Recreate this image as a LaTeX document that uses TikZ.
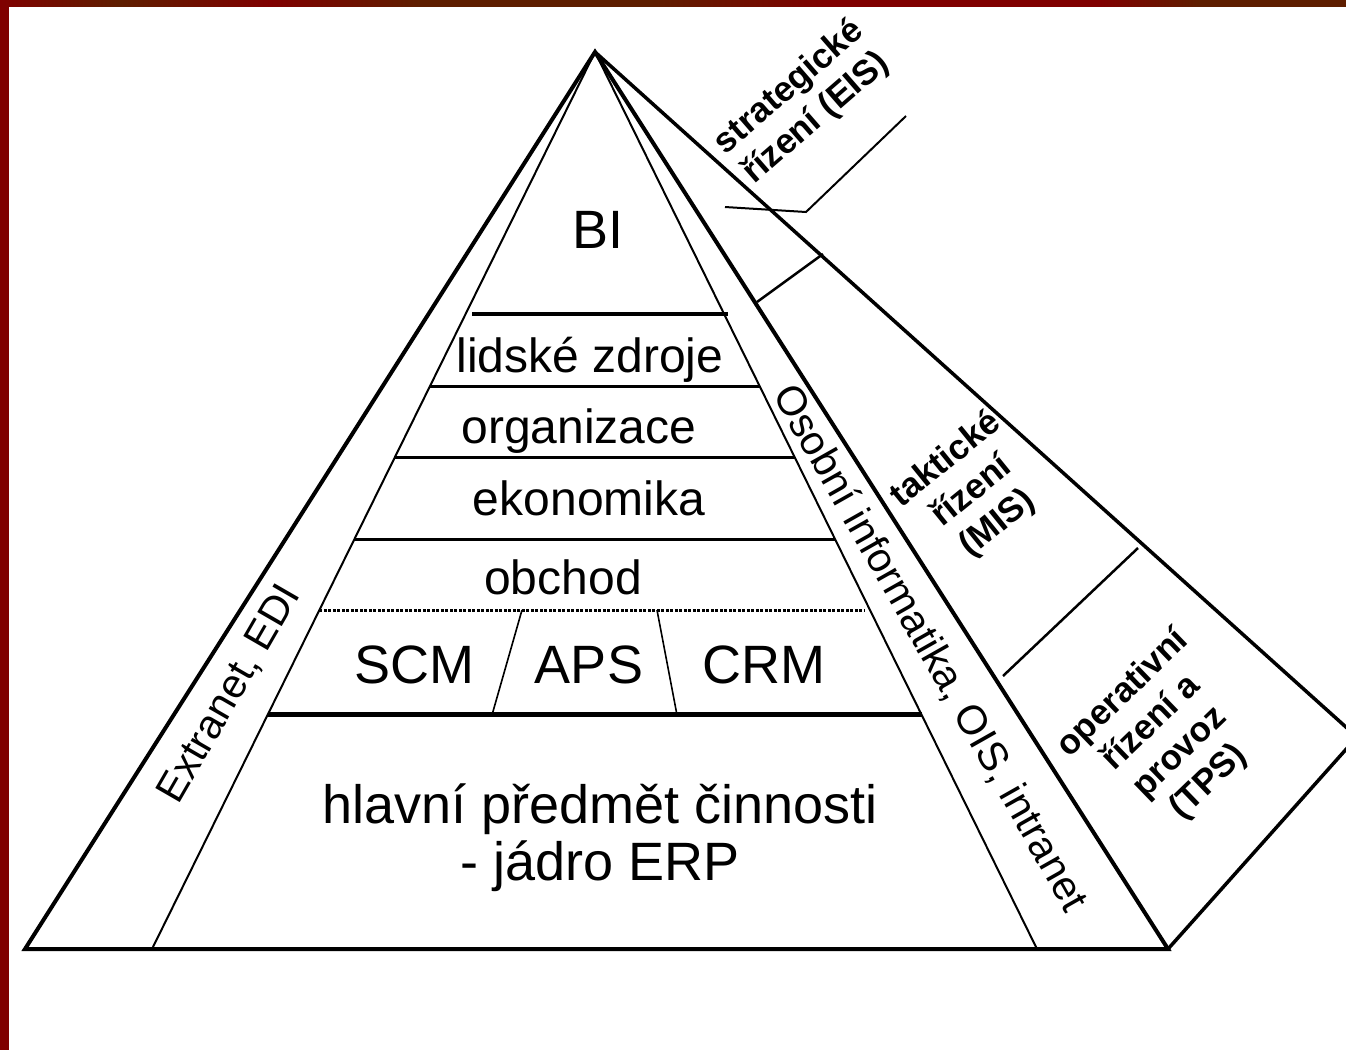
\documentclass[tikz,border=0pt]{standalone}
\usepackage{fontspec}
\setmainfont{Liberation Sans}
\definecolor{stripred}{HTML}{800000}
\definecolor{stripbrown}{HTML}{5E1E00}
\tikzset{
  edge/.style={line width=4pt, line join=miter},
  inner/.style={line width=2pt},
  rowline/.style={line width=3pt},
  heavyrow/.style={line width=5pt},
  divider/.style={line width=1.6pt},
  panelline/.style={line width=3.5pt, line join=miter},
  levelsep/.style={line width=2.5pt},
  layertext/.style={font=\fontsize{48}{50}\selectfont, anchor=base, inner sep=0pt},
  bigtext/.style={font=\fontsize{54}{57}\selectfont, anchor=base, inner sep=0pt},
  sidetext/.style={font=\fontsize{41}{46}\selectfont, inner sep=0pt},
  mgmttext/.style={font=\bfseries\fontsize{35}{41}\selectfont, align=center, inner sep=0pt},
}
\begin{document}
\begin{tikzpicture}[x=1pt, y=-1pt]
\useasboundingbox (0,0) rectangle (1346,1050);
\fill[white] (0,0) rectangle (1346,1050);

% slide frame: left bar and shaded top bar
\fill[stripred] (0,0) rectangle (9,1050);
\foreach \xa/\xb/\ca/\cb in {0/120/stripred/stripbrown, 120/270/stripbrown/stripred,
  270/420/stripred/stripbrown, 420/650/stripbrown/stripbrown, 650/830/stripbrown/stripred,
  830/1100/stripred/stripred, 1100/1200/stripred/stripbrown, 1200/1346/stripbrown/stripbrown}
  \shade[left color=\ca, right color=\cb] (\xa-0.5,0) rectangle (\xb+0.5,6);

% main points of the pyramid
\coordinate (apex) at (595,52);
\coordinate (BL) at (25,949);
\coordinate (BR) at (1168,949);
\coordinate (IL) at (152,949);
\coordinate (IR) at (1037,949);
\coordinate (OC) at (1357,737);

% layer boundaries on the inner slopes
\path (apex) -- (IL)
  coordinate[pos=0.3724] (L1) coordinate[pos=0.4526] (L2)
  coordinate[pos=0.5440] (L3) coordinate[pos=0.6221] (L4)
  coordinate[pos=0.7391] (L5);
\path (apex) -- (IR)
  coordinate[pos=0.3724] (R1) coordinate[pos=0.4526] (R2)
  coordinate[pos=0.5440] (R3) coordinate[pos=0.6221] (R4)
  coordinate[pos=0.7391] (R5);

% outline of the pyramid and the side panel of management levels
\draw[edge] (apex) -- (BL) -- (BR) -- cycle;
\draw[panelline] (apex) -- (OC) -- (BR);
\draw[inner] (apex) -- (IL);
\draw[inner] (apex) -- (IR);

% horizontal layers
\coordinate (bitopL) at (472,314);
\coordinate (bitopR) at (728,314);
\draw[line width=4.5pt] (bitopL) -- (bitopR);
\draw[rowline] (L1) -- (R1);
\draw[rowline] (L2) -- (R2);
\draw[rowline] (L3) -- (R3);
\draw[line width=3pt, dash pattern=on 3pt off 1.5pt, shorten >=6pt] (L4) -- (R4);
\draw[heavyrow] (L5) -- (R5);

% SCM / APS / CRM separators
\coordinate (d1t) at (522,610);
\coordinate (d1b) at (492,715);
\coordinate (d2t) at (657,610);
\coordinate (d2b) at (677,715);
\draw[divider] (d1t) -- (d1b);
\draw[divider] (d2t) -- (d2b);

% separators between management levels and the callout line
\coordinate (s1a) at (757,302);
\coordinate (s1b) at (823,254);
\coordinate (s2a) at (1003,676);
\coordinate (s2b) at (1138,548);
\draw[levelsep] (s1a) -- (s1b);
\draw[levelsep] (s2a) -- (s2b);
\coordinate (c1) at (725,207);
\coordinate (c2) at (806,212);
\coordinate (c3) at (906,116);
\draw[line width=2pt] (c1) -- (c2) -- (c3);

% texts inside the pyramid
\node[bigtext] (bi) at (598,248) {BI};
\node[layertext] (hr) at (590,372) {lidské zdroje};
\node[layertext] (org) at (579,443) {organizace};
\node[layertext] (eko) at (589,515) {ekonomika};
\node[layertext] (obch) at (563,594) {obchod};
\node[bigtext] (scm) at (414,683) {SCM};
\node[bigtext] (aps) at (589,683) {APS};
\node[bigtext] (crm) at (764,683) {CRM};
\node[bigtext] (erp1) at (600,823) {hlavní předmět činnosti};
\node[bigtext] (erp2) at (600,880) {- jádro ERP};

% texts along the slopes
\node[sidetext, rotate=60] (extra) at (230,694) {Extranet, EDI};
\node[sidetext, rotate=-60.5] (ois) at (930,648) {Osobní informatika, OIS, intranet};

% management levels
\node[mgmttext, rotate=41] (eis) at (803,103) {strategické\\řízení (EIS)};
\node[mgmttext, rotate=39] (mis) at (972,492) {taktické\\řízení\\(MIS)};
\node[mgmttext, rotate=44] (tps) at (1166,738) {operativní\\řízení a\\provoz\\(TPS)};
\end{tikzpicture}
\end{document}
